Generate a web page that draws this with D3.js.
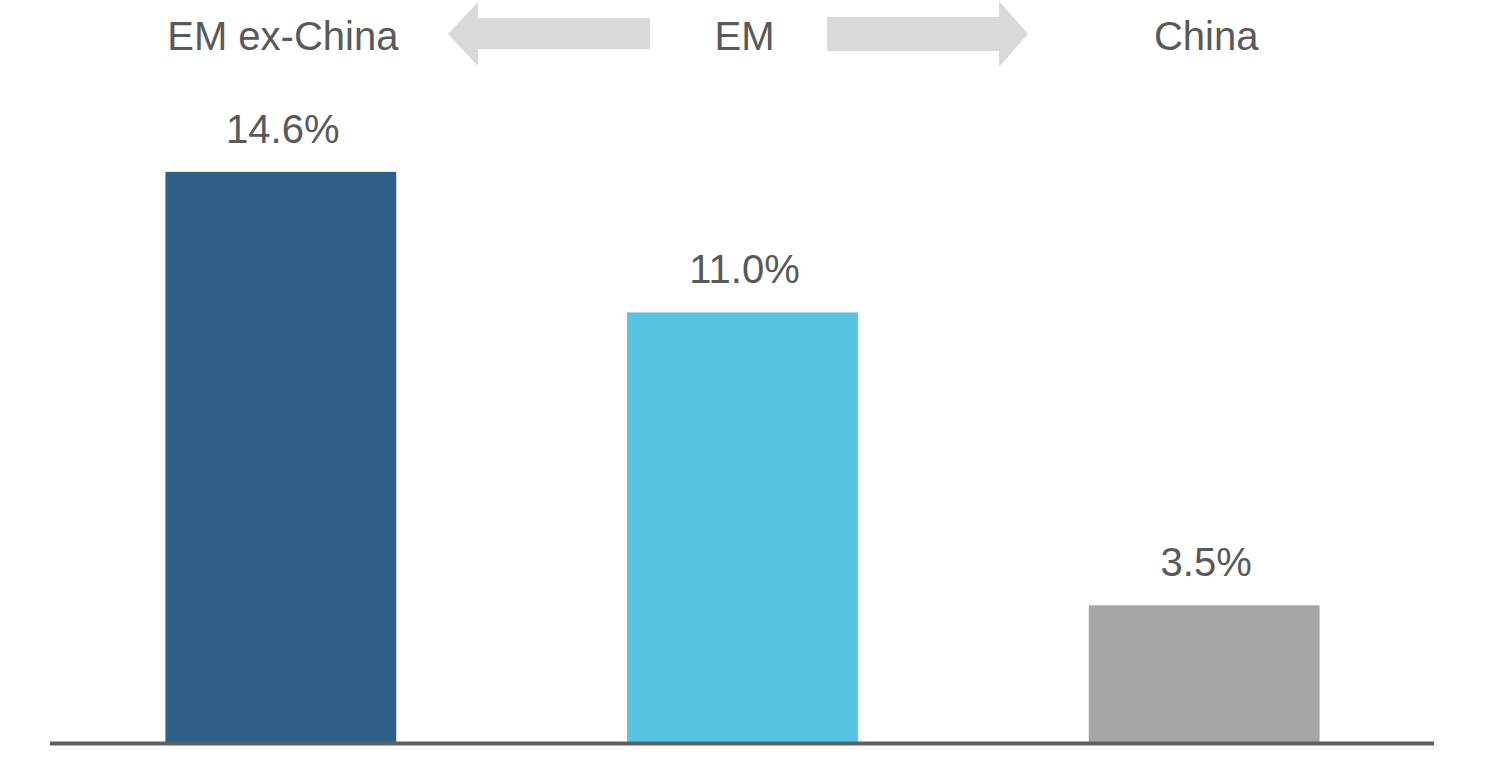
<!DOCTYPE html>
<html>
<head>
<meta charset="utf-8">
<script src="https://cdn.jsdelivr.net/npm/d3@7/dist/d3.min.js"></script>
<style>
  html, body { margin: 0; padding: 0; background: #ffffff; }
  svg { display: block; }
  text { font-family: "Liberation Sans", Arial, sans-serif; fill: #595959; }
</style>
</head>
<body>
<svg id="chart" width="1485" height="766"></svg>
<script>
const categories = ["EM ex-China", "EM", "China"];
const values = [14.6, 11.0, 3.5];
const valueLabels = ["14.6%", "11.0%", "3.5%"];
const barColors = ["#2E5F89", "#57C4E5", "#A6A6A6"];

const svg = d3.select("#chart");
const W = 1485, H = 766;

const x = d3.scaleBand()
  .domain(categories)
  .range([50, 1435])
  .paddingInner(0.5)
  .paddingOuter(0.25);

const y = d3.scaleLinear()
  .domain([0, 16])
  .range([742, 742 - 16 * 39.05]);

// bars
svg.selectAll("rect.bar")
  .data(values)
  .enter().append("rect")
  .attr("class", "bar")
  .attr("x", (d, i) => x(categories[i]))
  .attr("width", x.bandwidth())
  .attr("y", d => y(d))
  .attr("height", d => y(0) - y(d))
  .attr("fill", (d, i) => barColors[i]);

// value labels
svg.selectAll("text.val")
  .data(values)
  .enter().append("text")
  .attr("class", "val")
  .attr("x", (d, i) => x(categories[i]) + x.bandwidth() / 2 + 2)
  .attr("y", d => y(d) - 29)
  .attr("text-anchor", "middle")
  .style("font-size", "40px")
  .text((d, i) => valueLabels[i]);

// baseline axis
svg.append("line")
  .attr("x1", 50).attr("x2", 1434)
  .attr("y1", 743.5).attr("y2", 743.5)
  .attr("stroke", "#5f5f5f")
  .attr("stroke-width", 4);

// category labels on top
svg.selectAll("text.cat")
  .data(categories)
  .enter().append("text")
  .attr("class", "cat")
  .attr("x", d => x(d) + x.bandwidth() / 2 + 2)
  .attr("y", 50)
  .attr("text-anchor", "middle")
  .style("font-size", "40px")
  .text(d => d);

// arrows
const arrowColor = "#D9D9D9";
// left arrow: tip at ~448, head base ~478, body to ~651
svg.append("path")
  .attr("d", "M448,34 L478,2 L478,18 L650,18 L650,49 L478,49 L478,66 Z")
  .attr("fill", arrowColor);
// right arrow
svg.append("path")
  .attr("d", "M1028,34 L999,1 L999,17 L827,17 L827,51 L999,51 L999,67 Z")
  .attr("fill", arrowColor);
</script>
</body>
</html>
